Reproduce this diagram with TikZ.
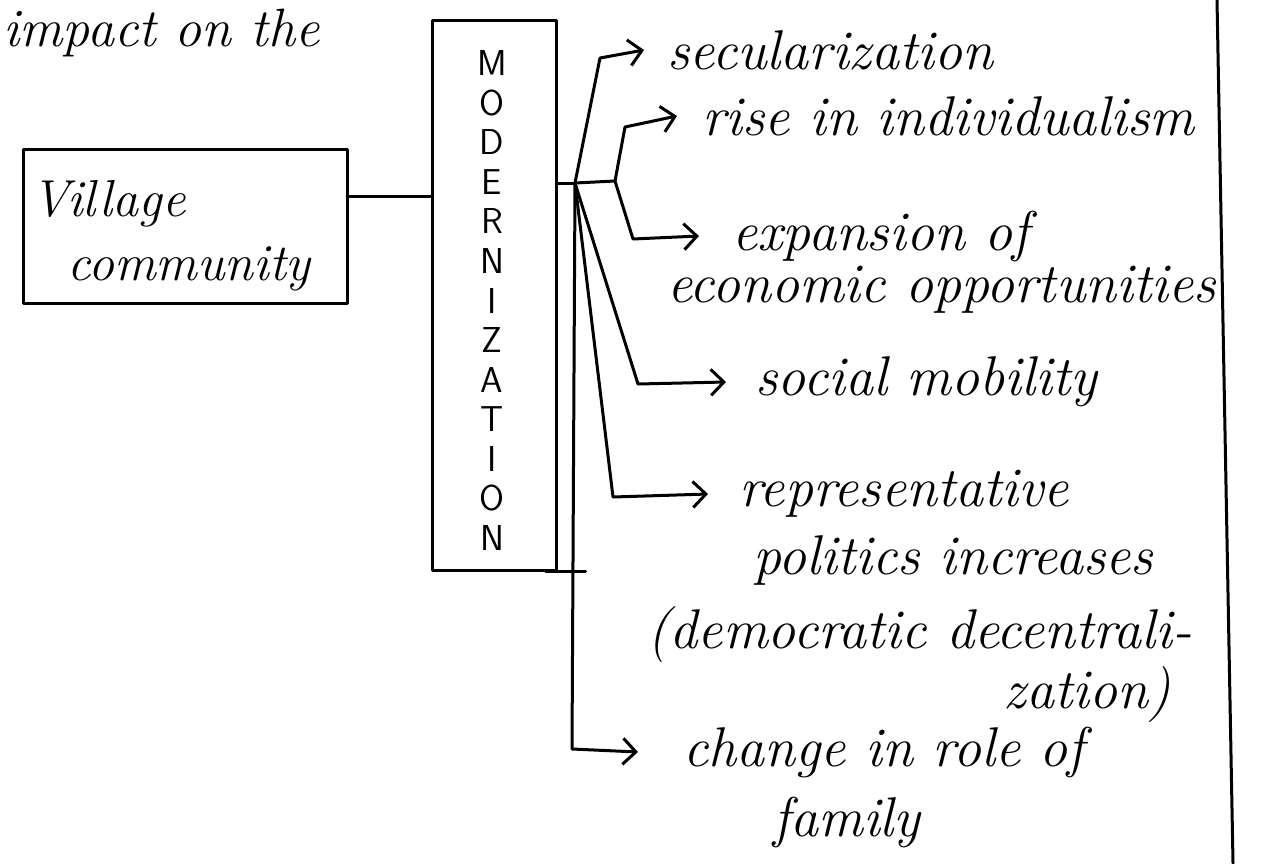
\documentclass[tikz,border=0pt]{standalone}
\usetikzlibrary{positioning, arrows.meta}

\tikzset{
    hand/.style={font=\fontsize{56}{62}\selectfont\itshape, inner xsep=16pt, inner ysep=0pt},
    letter/.style={font=\fontsize{36}{36}\selectfont\sffamily, inner sep=0pt},
    box/.style={draw, inner sep=0pt}
}

\begin{document}
\begin{tikzpicture}[x=1pt, y=-1pt, line width=3pt, line cap=round, line join=round,
    >={Straight Barb[length=13pt, width=26pt]}]
    \clip (0,0) rectangle (1269,863);

    \node[hand, anchor=base west, inner xsep=0pt, font=\fontsize{54}{60}\selectfont\itshape] (Heading) at (2,46) {impact on the};

    % village box and the modernization column
    \node[box, minimum width=324pt, minimum height=154pt] (Village box) at (185,226) {};
    \node[hand, anchor=base west, inner xsep=0pt, font=\fontsize{52}{56}\selectfont\itshape] (Village) at (30,216) {Village};
    \node[hand, anchor=base west, inner xsep=0pt, font=\fontsize{52}{56}\selectfont\itshape] (Community) at (66,280) {community};

    \node[box, minimum width=124pt, minimum height=550pt] (Modern box) at (494,295) {};
    \foreach \ch [count=\i] in {M,O,D,E,R,N,I,Z,A,T,I,O,N}
        \node[letter] (Letter \i) at (492, {24+39.5*\i}) {\ch};

    \coordinate (Village out) at (347,196);
    \draw (Village out) -- (Village out -| Modern box.west);

    % fan of outcomes
    \coordinate (Fan) at (575,183);
    \coordinate (Secular bend) at (600,58);
    \coordinate (Rise corner) at (615,181);
    \coordinate (Rise bend) at (625,127);
    \coordinate (Expansion bend) at (633,239);
    \coordinate (Social bend) at (638,384);
    \coordinate (Repr bend) at (613,497);
    \coordinate (Change bend) at (572,749);

    \node[hand, anchor=west, inner xsep=22pt] (Secular) at (644,50) {secularization};
    \node[hand, anchor=west, inner xsep=24pt] (Rise) at (677,116) {rise in individualism};
    \node[hand, anchor=west, inner xsep=32pt] (Expansion) at (699,236) {expansion of};
    \node[hand, anchor=base west, inner xsep=0pt] (Economic) at (666,302) {economic opportunities};
    \node[hand, anchor=west, inner xsep=28pt] (Social) at (726,382) {social mobility};
    \node[hand, anchor=west, inner xsep=30pt] (Repr) at (708,494) {representative};
    \node[hand, anchor=base west, inner xsep=0pt] (Politics) at (752,574) {politics increases};
    \node[hand, anchor=base west, inner xsep=0pt] (Democ) at (646,648) {(democratic decentrali-};
    \node[hand, anchor=base east, inner xsep=0pt] (Zation) at (1172,708) {zation)};
    \node[hand, anchor=west, inner xsep=44pt] (Change) at (638,752) {change in role of};
    \node[hand, anchor=base west, inner xsep=0pt] (Family) at (772,836) {family};

    \draw (Modern box.east |- Fan) -- (Fan);
    \draw[->] (Fan) -- (Secular bend) -- (Secular.west);
    \draw[->] (Fan) -- (Rise corner) -- (Rise bend) -- (Rise.west);
    \draw[->] (Rise corner) -- (Expansion bend) -- (Expansion.west);
    \draw[->] (Fan) -- (Social bend) -- (Social.west);
    \draw[->] (Fan) -- (Repr bend) -- (Repr.west);
    \draw[->] (Fan) -- (Change bend) -- (Change.west);
    \draw ([xshift=-12pt]Modern box.south east) -- ([xshift=28pt]Modern box.south east);

    % page margin
    \coordinate (Margin top) at (1217,0);
    \coordinate (Margin foot) at (1233,863);
    \draw (Margin top) -- (Margin foot);
\end{tikzpicture}
\end{document}
